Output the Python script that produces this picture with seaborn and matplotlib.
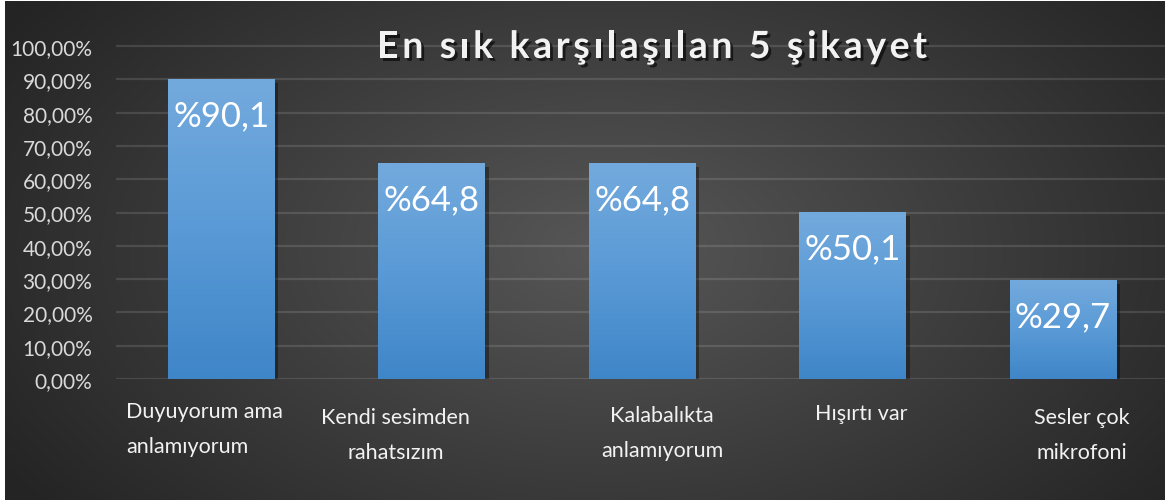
import numpy as np
import matplotlib
matplotlib.use("Agg")
import matplotlib.pyplot as plt
import matplotlib.patheffects as pe
from matplotlib.colors import LinearSegmentedColormap
import seaborn as sns

# data
categories = ["Duyuyorum ama\nanlamıyorum", "Kendi sesimden\nrahatsızım",
              "Kalabalıkta\nanlamıyorum", "Hışırtı var", "Sesler çok\nmikrofoni"]
values = [0.901, 0.648, 0.648, 0.501, 0.297]
bar_labels = ["%90,1", "%64,8", "%64,8", "%50,1", "%29,7"]
title = "En sık karşılaşılan 5 şikayet"
yticks = [0.0, 0.1, 0.2, 0.3, 0.4, 0.5, 0.6, 0.7, 0.8, 0.9, 1.0]

# label nudges (pixels) to mimic the original placement
label_dx = [-17, -36, 20, 9, 19]
label_dy = [-22, -28, -26, -24, -28]

sns.set_theme(style="dark")
plt.rcParams['font.family'] = ['Lato', 'DejaVu Sans']

fig = plt.figure(figsize=(11.65, 5.02), dpi=100, facecolor="white")

#--- dark radial background
bg = fig.add_axes([5/1165, 1/502, 1 - 5/1165, 1 - 3/502], zorder=-10)
gx, gy = np.meshgrid(np.linspace(0, 1, 400), np.linspace(0, 1, 200))
r = np.sqrt(((gx - 0.52) / 0.62) ** 2 + ((gy - 0.5) / 0.85) ** 2)
shade = (0x57 - (0x57 - 0x24) * np.clip(r, 0, 1)) / 255.0
bg.imshow(np.dstack([shade, shade, shade]), extent=[0, 1, 0, 1], aspect="auto", origin="lower")
bg.set_axis_off()

#--- plot area
ymax = 1.02
ax_top = 1 - (380 - 333 * ymax) / 502
ax = fig.add_axes([116/1165, 1 - 380/502, 1 - 116/1165, ax_top - (1 - 380/502)])
ax.set_facecolor("none")

sns.barplot(x=categories, y=values, color="#5b9bd5", saturation=1, width=0.505,
            linewidth=0, ax=ax, zorder=3)

xlim = (-0.5, (1165 - 116) / 210.4 - 0.5)
ax.set_xlim(*xlim)
ax.set_ylim(0, ymax)

# gradient fill + soft shadow on bars
cmap = LinearSegmentedColormap.from_list("barblue", ["#3f86c8", "#5a9ad6", "#73aadd"])
for p in ax.patches:
    x0, w, h = p.get_x(), p.get_width(), p.get_height()
    p.set_linewidth(0)
    p.set_path_effects([pe.SimplePatchShadow(offset=(3, -3), alpha=0.35, shadow_rgbFace="black"), pe.Normal()])
    im = ax.imshow(np.linspace(0, 1, 100).reshape(-1, 1), extent=[x0, x0 + w, 0, h],
                   origin="lower", aspect="auto", cmap=cmap, zorder=3.5)
    im.set_clip_path(p)
ax.set_xlim(*xlim)
ax.set_ylim(0, ymax)
ax.set_aspect("auto")

# value labels inside the bars
for i, (v, lab) in enumerate(zip(values, bar_labels)):
    ax.annotate(lab, xy=(i, v), xytext=(0, -36), textcoords="offset pixels",
                ha="center", va="center", color="white", fontsize=25, zorder=5)

# grid
ax.set_yticks(yticks)
ax.set_yticklabels([f"{t*100:.2f}%".replace(".", ",") for t in yticks])
ax.yaxis.grid(True, color="white", alpha=0.12, lw=1.6, zorder=0)
ax.xaxis.grid(False)
for s in ax.spines.values():
    s.set_visible(False)
ax.tick_params(axis="y", length=0, pad=17, labelsize=15, labelcolor="#d9d9d9")

# category labels (placed by hand so each one can be nudged)
ax.set_xticks([])
ax.set_xlabel("")
ax.set_ylabel("")
for i, cat in enumerate(categories):
    ax.annotate(cat, xy=(i, 0), xytext=(label_dx[i], label_dy[i]), textcoords="offset pixels",
                ha="center", va="top", multialignment="left" if i == 0 else "center",
                color="#f2f2f2", fontsize=15.5, linespacing=1.95, annotation_clip=False)

# title, letter-spaced like the original: place characters one by one
renderer = fig.canvas.get_renderer()
title_kw = dict(color="#f2f2f2", fontsize=27, fontweight="bold", va="center", ha="left",
                path_effects=[pe.withSimplePatchShadow(offset=(2, -2), alpha=0.6, shadow_rgbFace="black")])
spacing = 3.6  # extra pixels between letters
probe = fig.text(0, 0, title, **title_kw)
full_w = probe.get_window_extent(renderer).width
probe.remove()
total_w = full_w + spacing * (len(title) - 1)
x_start = 652 - total_w / 2
for k, ch in enumerate(title):
    if k > 0:
        pre = fig.text(0, 0, title[:k] + "|", **title_kw)
        bar_t = fig.text(0, 0, "|", **title_kw)
        adv = pre.get_window_extent(renderer).width - bar_t.get_window_extent(renderer).width
        pre.remove()
        bar_t.remove()
    else:
        adv = 0
    fig.text((x_start + adv + spacing * k) / 1165, 1 - 48/502, ch, **title_kw)

plt.savefig("out.png", dpi=100, facecolor="white")
